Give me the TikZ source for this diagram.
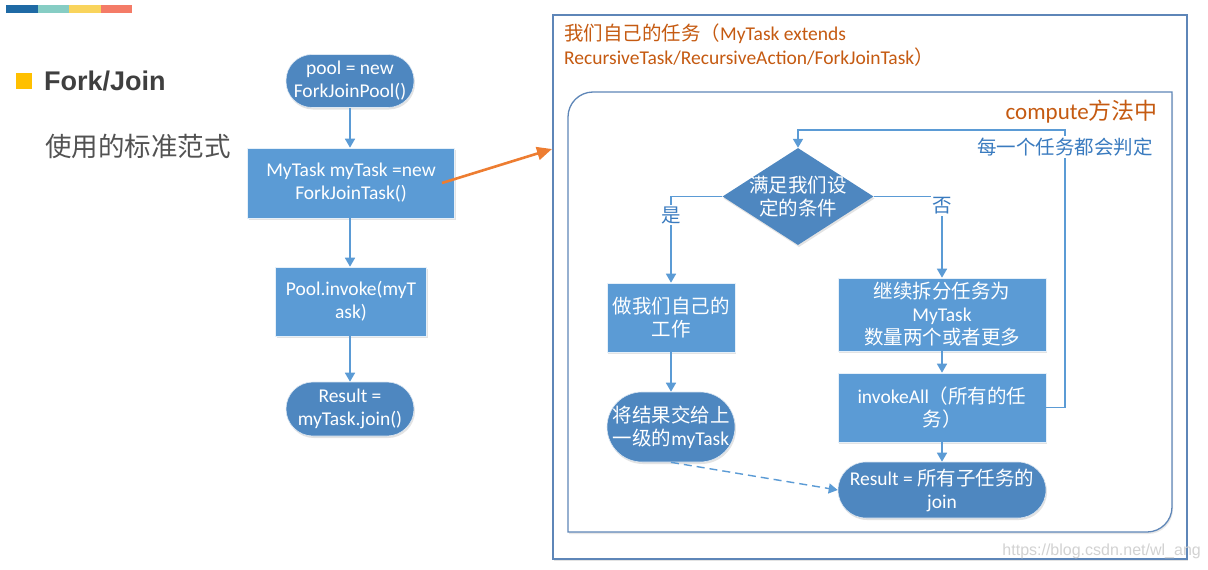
\documentclass[tikz,border=0pt]{standalone}
\usepackage{fontspec}
\setmainfont{Carlito}
\newfontfamily\cjk{Noto Sans CJK SC}
\newfontfamily\arialf{Liberation Sans}
\usetikzlibrary{shapes.geometric,arrows.meta,shadows}
\definecolor{rectblue}{HTML}{5B9BD5}
\definecolor{darkblue}{HTML}{4E87C0}
\definecolor{lineblue}{HTML}{5B9BD5}
\definecolor{labelblue}{HTML}{3A7BBF}
\definecolor{orangetext}{HTML}{C55A11}
\definecolor{orangearrow}{HTML}{ED7D31}
\definecolor{framecol}{HTML}{5E86B8}
\definecolor{barA}{HTML}{1F6AA5}
\definecolor{barB}{HTML}{86CDC4}
\definecolor{barC}{HTML}{F9D45C}
\definecolor{barD}{HTML}{F47B67}
\definecolor{bullet}{HTML}{FFC000}
\definecolor{titlegray}{HTML}{3F3F3F}
\begin{document}
\begin{tikzpicture}[x=1pt,y=-1pt,
  txt/.style={font=\fontsize{19.5}{23}\selectfont, text=white, align=center, inner sep=0pt},
  shd/.style={drop shadow={shadow xshift=1pt,shadow yshift=-2pt,opacity=.22,fill=gray}},
  boxnode/.style={txt, shd, rectangle, fill=rectblue, draw=white!85!rectblue, line width=0.6pt},
  stadium/.style={txt, shd, rectangle, fill=darkblue, draw=white!80!darkblue, line width=0.6pt},
  conn/.style={draw=lineblue, line width=1.6pt, -{Triangle[width=10pt,length=9pt]}},
  lab/.style={font=\fontsize{19.5}{23}\selectfont, text=labelblue, fill=white, inner sep=1.5pt},
  otext/.style={font=\fontsize{19.5}{23}\selectfont, text=orangetext, inner sep=0pt},
  frame/.style={draw=framecol, line width=1.3pt}
]
\useasboundingbox (0,0) rectangle (1208,570);

% header color bar
\fill[barA] (6,5) rectangle (38,13);
\fill[barB] (38,5) rectangle (69,13);
\fill[barC] (69,5) rectangle (101,13);
\fill[barD] (101,5) rectangle (132,13);

% title
\fill[bullet] (16,73) rectangle (32,89);
\node[anchor=west, inner sep=0pt, font=\arialf\bfseries\fontsize{27}{30}\selectfont, text=titlegray] (title) at (44,81) {Fork/Join};
\node[anchor=west, inner sep=0pt, font=\cjk\fontsize{26.5}{30}\selectfont, text=titlegray!90!white] (subtitle) at (45,146) {使用的标准范式};

% left flowchart
\node[stadium, minimum width=128pt, minimum height=53pt, rounded corners=26pt] (n1) at (350,81) {pool = new\\ForkJoinPool()};
\node[boxnode, minimum width=207pt, minimum height=70pt] (n2) at (351,183) {MyTask myTask =new\\ForkJoinTask()};
\node[boxnode, minimum width=151pt, minimum height=69pt] (n3) at (351,301.5) {Pool.invoke(myT\\ask)};
\node[stadium, minimum width=128pt, minimum height=54pt, rounded corners=27pt] (n4) at (350,409) {Result =\\myTask.join()};
\draw[conn] (n1.south) -- (n1.south |- n2.north);
\draw[conn] (n2.south -| n1.south) -- (n1.south |- n3.north);
\draw[conn] (n3.south -| n1.south) -- (n4.north);

% outer frame
\node[frame, shd, fill=white, rectangle, minimum width=634pt, minimum height=544pt, inner sep=0pt] (outer) at (870,287) {};
\node[otext, anchor=west] (ot1) at (564,34) {{\cjk 我们自己的任务（}MyTask extends};
\node[otext, anchor=west] (ot2) at (564,57) {RecursiveTask/RecursiveAction/ForkJoinTask{\cjk ）}};

% orange arrow
\coordinate (oa) at (442,183);
\coordinate (ob) at (552,149);
\draw[orangearrow, line width=2.6pt, -{Triangle[width=13pt,length=15pt]}] (oa) -- (ob);

% inner frame (rounded top-left and bottom-right)
\draw[frame, fill=white, drop shadow={shadow xshift=1pt,shadow yshift=-2pt,opacity=.18,fill=gray}]
  (568,532) -- (568,117) .. controls (568,103.2) and (579.2,92) .. (593,92)
  -- (1172,92) -- (1172,507) .. controls (1172,520.8) and (1160.8,532) .. (1147,532) -- cycle;
\node[anchor=east, inner sep=0pt, font=\fontsize{23}{26}\selectfont, text=orangetext] (comp) at (1158,112) {compute{\cjk 方法中}};

% right flowchart
\node[diamond, shd, fill=darkblue, minimum width=151pt, minimum height=97pt, inner sep=0pt] (d) at (798,196.5) {};
\node[txt] (dtext) at (d.center) {{\cjk 满足我们设}\\{\cjk 定的条件}};
\node[boxnode, minimum width=128pt, minimum height=69pt] (b1) at (671,317.5) {{\cjk 做我们自己的}\\{\cjk 工作}};
\node[stadium, minimum width=128pt, minimum height=70pt, rounded corners=35pt] (s1) at (671,427) {{\cjk 将结果交给上}\\{\cjk 一级的}myTask};
\node[boxnode, minimum width=208pt, minimum height=73pt] (b2) at (942,314.5) {{\cjk 继续拆分任务为}\\MyTask\\{\cjk 数量两个或者更多}};
\node[boxnode, minimum width=208pt, minimum height=69pt] (b3) at (942,407.5) {invokeAll{\cjk （所有的任}\\{\cjk 务）}};
\node[stadium, minimum width=208pt, minimum height=56pt, rounded corners=28pt] (s2) at (942,490) {Result = {\cjk 所有子任务的}\\join};

\coordinate (looptop) at (1065,130);
\draw[conn] (d.west) -| (b1.north);
\draw[conn] (d.east) -| (b2.north);
\draw[conn] (b1.south) -- (s1.north);
\draw[conn] (b2.south) -- (b3.north);
\draw[conn] (b3.south) -- (s2.north);
\draw[conn] (b3.east) -| (looptop) -| (d.north);
\draw[conn, line width=1.4pt, dash pattern=on 8pt off 5pt] (s1.south) -- (s2.west);

\node[lab] (yes) at (671,215) {\cjk 是};
\node[lab] (no) at (942,206) {\cjk 否};
\node[lab] (every) at (1065,147) {\cjk 每一个任务都会判定};

% watermark
\node[anchor=east, inner sep=0pt, font=\arialf\fontsize{16}{18}\selectfont, text=gray!35] (wm) at (1201,551) {https://blog.csdn.net/wl\_ang};
\end{tikzpicture}
\end{document}
